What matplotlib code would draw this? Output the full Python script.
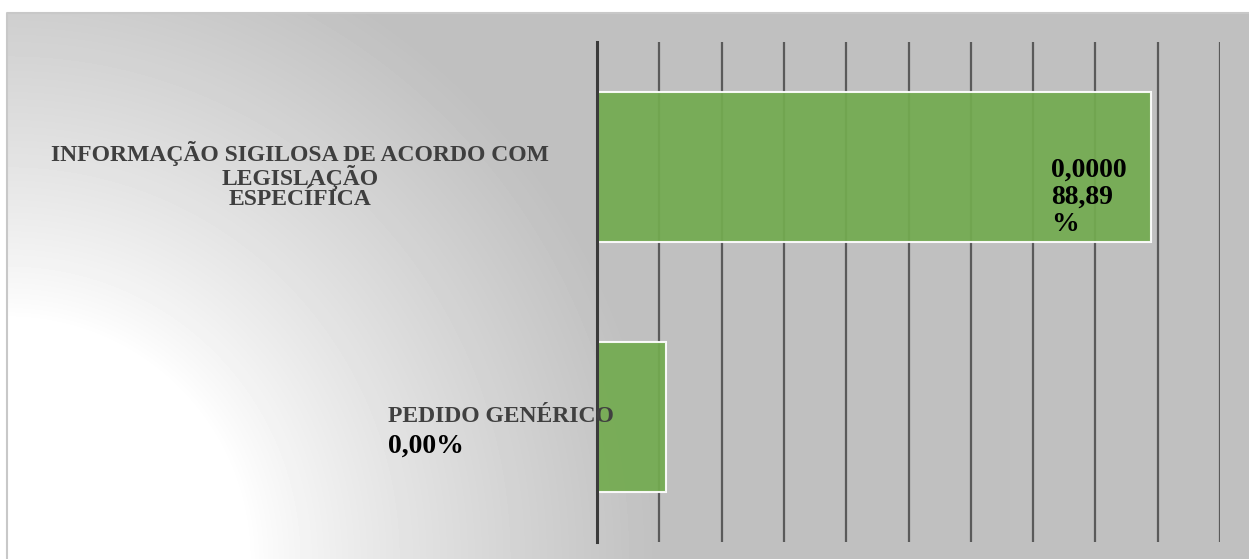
import numpy as np
import matplotlib.pyplot as plt
from matplotlib import transforms

categorias = ['PEDIDO GENÉRICO',
              'INFORMAÇÃO SIGILOSA DE ACORDO COM\nLEGISLAÇÃO\nESPECÍFICA']
percentuais = [11.11, 88.89]
rotulos = ['0,00%', '0,0000\n88,89\n%']
marcas = np.arange(0, 101, 10)

W, H = 1249, 559
fig = plt.figure(figsize=(W / 100, H / 100), dpi=100)

# fundo com degradê radial a partir do canto inferior esquerdo
yy, xx = np.mgrid[0:H, 0:W]
dist = np.hypot(xx - 7, H - yy)
t = np.clip((dist - 240) / 420, 0, 1) ** 0.85
fundo = 1 - 0.25 * t
fundo[:12, :] = 1.0
fundo[:, :7] = 1.0
bg = fig.add_axes([0, 0, 1, 1], zorder=0)
bg.imshow(fundo, cmap='gray', vmin=0, vmax=1, extent=(0, W, H, 0),
          aspect='auto', interpolation='bilinear')
bg.plot([7.5, 7.5, W], [H, 12.5, 12.5], color='#c8c8c8', lw=1.5)
bg.set_xlim(0, W)
bg.set_ylim(H, 0)
bg.axis('off')

# área do gráfico
ax = fig.add_axes([597 / W, (H - 542) / H, (1220 - 597) / W, (542 - 41.5) / H], zorder=1)
ax.patch.set_alpha(0)
ax.set_xlim(0, 100)
ax.set_ylim(-0.5, 1.5)
ax.set_xticks(marcas)
ax.set_yticks([])
ax.grid(axis='x', color='#5a5a5a', lw=1.6)
ax.set_axisbelow(True)
ax.tick_params(length=0, labelbottom=False, labelleft=False)
for lado in ['top', 'right', 'bottom']:
    ax.spines[lado].set_visible(False)
ax.spines['left'].set_color('#3a3a3a')
ax.spines['left'].set_linewidth(2.2)
ax.spines['left'].set_zorder(4)

ax.barh(range(len(percentuais)), percentuais, height=0.6, color='#73ab50',
        edgecolor='white', linewidth=1.5, alpha=0.93, zorder=2)

fonte = dict(family='Liberation Serif', fontweight='bold')
trans = transforms.blended_transform_factory(fig.transFigure, ax.transData)

# rótulos das categorias à esquerda do eixo
ax.text(300 / W, 0.966, categorias[1], transform=trans, ha='center', va='center',
        multialignment='center', linespacing=0.94, fontsize=17, color='#3f3f3f',
        zorder=5, **fonte)
ax.text(388 / W, 0.0, categorias[0], transform=trans, ha='left', va='center',
        fontsize=17, color='#404040', zorder=5, **fonte)
ax.text(388 / W, -0.116, rotulos[0], transform=trans, ha='left', va='center',
        fontsize=20, color='black', zorder=5, **fonte)

# rótulo de valor dentro da barra maior
ax.text(percentuais[1] - 16, 0.878, rotulos[1], ha='left', va='center',
        linespacing=1.12, fontsize=20, color='black', zorder=5, **fonte)

fig.savefig('out.png', dpi=100)
